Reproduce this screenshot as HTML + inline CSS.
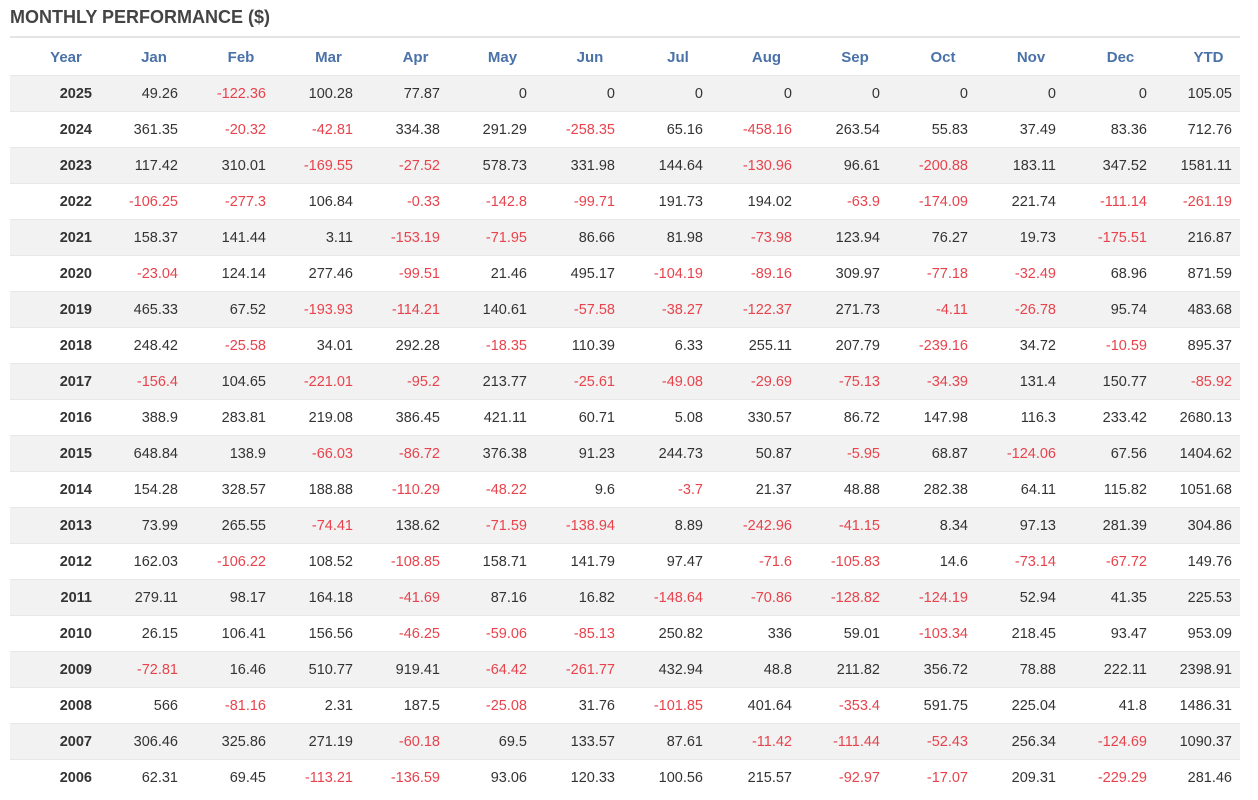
<!DOCTYPE html>
<html><head><meta charset="utf-8"><style>
body{margin:0;background:#fff;width:1258px;height:800px;overflow:hidden;font-family:"Liberation Sans",Arial,sans-serif;}
.t{position:absolute;left:10px;top:7px;font-size:18px;font-weight:bold;color:#444;}
.hr{position:absolute;left:10px;top:36px;width:1230px;height:2px;background:#e4e4e4;}
table{position:absolute;left:10px;top:39px;border-collapse:collapse;width:1230px;table-layout:fixed;font-size:14.5px;color:#333;}
td,th{height:35px;padding:0 8px 0 0;text-align:right;white-space:nowrap;border-top:1px solid #e8e8e8;}
th{height:36px;color:#4a72a8;text-align:center;padding:0 0 0 22px;border-top:none;font-size:15px;}
tr:nth-child(even) td{background:#f2f2f2;}
td:first-child{font-weight:bold;}
.n{color:#e8434c;}
</style></head><body>
<div class="t">MONTHLY PERFORMANCE ($)</div>
<div class="hr"></div>
<table>
<colgroup><col style="width:90px"><col style="width:86px"><col style="width:88px"><col style="width:87px"><col style="width:87px"><col style="width:87px"><col style="width:88px"><col style="width:88px"><col style="width:89px"><col style="width:88px"><col style="width:88px"><col style="width:88px"><col style="width:91px"><col style="width:85px"></colgroup>
<tr><th>Year</th><th>Jan</th><th>Feb</th><th>Mar</th><th>Apr</th><th>May</th><th>Jun</th><th>Jul</th><th>Aug</th><th>Sep</th><th>Oct</th><th>Nov</th><th>Dec</th><th>YTD</th></tr>
<tr><td>2025</td><td>49.26</td><td class="n">-122.36</td><td>100.28</td><td>77.87</td><td>0</td><td>0</td><td>0</td><td>0</td><td>0</td><td>0</td><td>0</td><td>0</td><td>105.05</td></tr>
<tr><td>2024</td><td>361.35</td><td class="n">-20.32</td><td class="n">-42.81</td><td>334.38</td><td>291.29</td><td class="n">-258.35</td><td>65.16</td><td class="n">-458.16</td><td>263.54</td><td>55.83</td><td>37.49</td><td>83.36</td><td>712.76</td></tr>
<tr><td>2023</td><td>117.42</td><td>310.01</td><td class="n">-169.55</td><td class="n">-27.52</td><td>578.73</td><td>331.98</td><td>144.64</td><td class="n">-130.96</td><td>96.61</td><td class="n">-200.88</td><td>183.11</td><td>347.52</td><td>1581.11</td></tr>
<tr><td>2022</td><td class="n">-106.25</td><td class="n">-277.3</td><td>106.84</td><td class="n">-0.33</td><td class="n">-142.8</td><td class="n">-99.71</td><td>191.73</td><td>194.02</td><td class="n">-63.9</td><td class="n">-174.09</td><td>221.74</td><td class="n">-111.14</td><td class="n">-261.19</td></tr>
<tr><td>2021</td><td>158.37</td><td>141.44</td><td>3.11</td><td class="n">-153.19</td><td class="n">-71.95</td><td>86.66</td><td>81.98</td><td class="n">-73.98</td><td>123.94</td><td>76.27</td><td>19.73</td><td class="n">-175.51</td><td>216.87</td></tr>
<tr><td>2020</td><td class="n">-23.04</td><td>124.14</td><td>277.46</td><td class="n">-99.51</td><td>21.46</td><td>495.17</td><td class="n">-104.19</td><td class="n">-89.16</td><td>309.97</td><td class="n">-77.18</td><td class="n">-32.49</td><td>68.96</td><td>871.59</td></tr>
<tr><td>2019</td><td>465.33</td><td>67.52</td><td class="n">-193.93</td><td class="n">-114.21</td><td>140.61</td><td class="n">-57.58</td><td class="n">-38.27</td><td class="n">-122.37</td><td>271.73</td><td class="n">-4.11</td><td class="n">-26.78</td><td>95.74</td><td>483.68</td></tr>
<tr><td>2018</td><td>248.42</td><td class="n">-25.58</td><td>34.01</td><td>292.28</td><td class="n">-18.35</td><td>110.39</td><td>6.33</td><td>255.11</td><td>207.79</td><td class="n">-239.16</td><td>34.72</td><td class="n">-10.59</td><td>895.37</td></tr>
<tr><td>2017</td><td class="n">-156.4</td><td>104.65</td><td class="n">-221.01</td><td class="n">-95.2</td><td>213.77</td><td class="n">-25.61</td><td class="n">-49.08</td><td class="n">-29.69</td><td class="n">-75.13</td><td class="n">-34.39</td><td>131.4</td><td>150.77</td><td class="n">-85.92</td></tr>
<tr><td>2016</td><td>388.9</td><td>283.81</td><td>219.08</td><td>386.45</td><td>421.11</td><td>60.71</td><td>5.08</td><td>330.57</td><td>86.72</td><td>147.98</td><td>116.3</td><td>233.42</td><td>2680.13</td></tr>
<tr><td>2015</td><td>648.84</td><td>138.9</td><td class="n">-66.03</td><td class="n">-86.72</td><td>376.38</td><td>91.23</td><td>244.73</td><td>50.87</td><td class="n">-5.95</td><td>68.87</td><td class="n">-124.06</td><td>67.56</td><td>1404.62</td></tr>
<tr><td>2014</td><td>154.28</td><td>328.57</td><td>188.88</td><td class="n">-110.29</td><td class="n">-48.22</td><td>9.6</td><td class="n">-3.7</td><td>21.37</td><td>48.88</td><td>282.38</td><td>64.11</td><td>115.82</td><td>1051.68</td></tr>
<tr><td>2013</td><td>73.99</td><td>265.55</td><td class="n">-74.41</td><td>138.62</td><td class="n">-71.59</td><td class="n">-138.94</td><td>8.89</td><td class="n">-242.96</td><td class="n">-41.15</td><td>8.34</td><td>97.13</td><td>281.39</td><td>304.86</td></tr>
<tr><td>2012</td><td>162.03</td><td class="n">-106.22</td><td>108.52</td><td class="n">-108.85</td><td>158.71</td><td>141.79</td><td>97.47</td><td class="n">-71.6</td><td class="n">-105.83</td><td>14.6</td><td class="n">-73.14</td><td class="n">-67.72</td><td>149.76</td></tr>
<tr><td>2011</td><td>279.11</td><td>98.17</td><td>164.18</td><td class="n">-41.69</td><td>87.16</td><td>16.82</td><td class="n">-148.64</td><td class="n">-70.86</td><td class="n">-128.82</td><td class="n">-124.19</td><td>52.94</td><td>41.35</td><td>225.53</td></tr>
<tr><td>2010</td><td>26.15</td><td>106.41</td><td>156.56</td><td class="n">-46.25</td><td class="n">-59.06</td><td class="n">-85.13</td><td>250.82</td><td>336</td><td>59.01</td><td class="n">-103.34</td><td>218.45</td><td>93.47</td><td>953.09</td></tr>
<tr><td>2009</td><td class="n">-72.81</td><td>16.46</td><td>510.77</td><td>919.41</td><td class="n">-64.42</td><td class="n">-261.77</td><td>432.94</td><td>48.8</td><td>211.82</td><td>356.72</td><td>78.88</td><td>222.11</td><td>2398.91</td></tr>
<tr><td>2008</td><td>566</td><td class="n">-81.16</td><td>2.31</td><td>187.5</td><td class="n">-25.08</td><td>31.76</td><td class="n">-101.85</td><td>401.64</td><td class="n">-353.4</td><td>591.75</td><td>225.04</td><td>41.8</td><td>1486.31</td></tr>
<tr><td>2007</td><td>306.46</td><td>325.86</td><td>271.19</td><td class="n">-60.18</td><td>69.5</td><td>133.57</td><td>87.61</td><td class="n">-11.42</td><td class="n">-111.44</td><td class="n">-52.43</td><td>256.34</td><td class="n">-124.69</td><td>1090.37</td></tr>
<tr><td>2006</td><td>62.31</td><td>69.45</td><td class="n">-113.21</td><td class="n">-136.59</td><td>93.06</td><td>120.33</td><td>100.56</td><td>215.57</td><td class="n">-92.97</td><td class="n">-17.07</td><td>209.31</td><td class="n">-229.29</td><td>281.46</td></tr>
</table>
</body></html>
